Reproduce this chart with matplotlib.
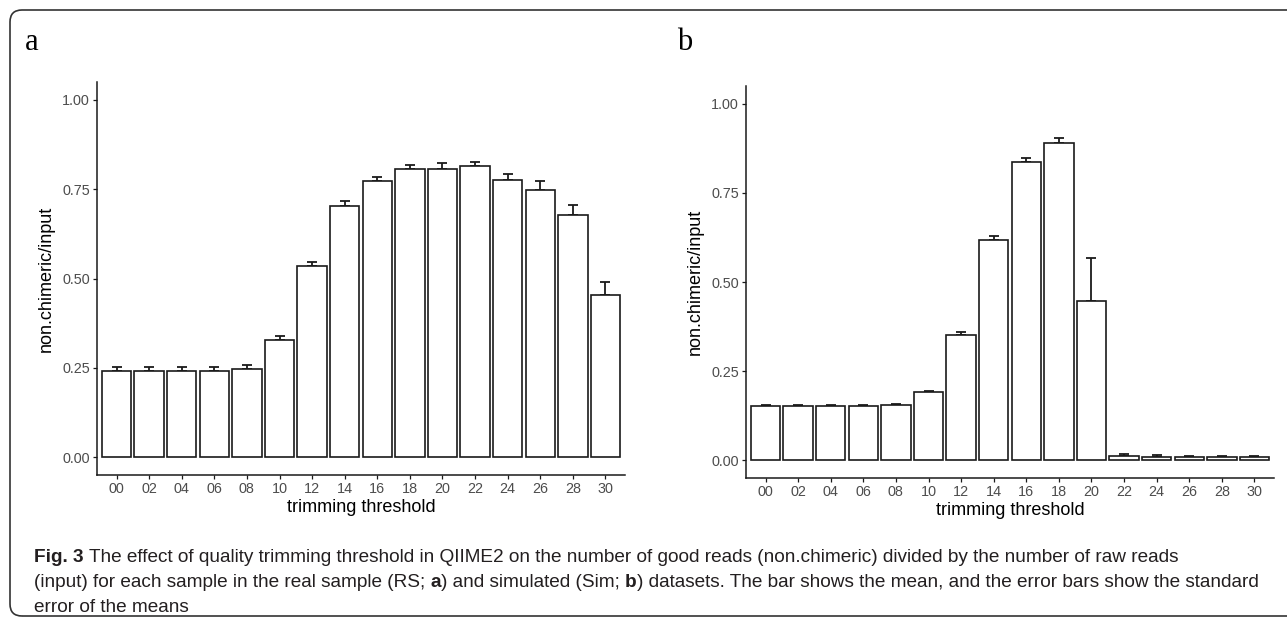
import matplotlib as mpl
import matplotlib.pyplot as plt
from matplotlib.patches import FancyBboxPatch
from matplotlib.transforms import IdentityTransform

mpl.use('Agg')

# data
thresholds = ['00', '02', '04', '06', '08', '10', '12', '14',
              '16', '18', '20', '22', '24', '26', '28', '30']

rs_mean = [0.242, 0.242, 0.242, 0.242, 0.248, 0.327, 0.534, 0.704,
           0.773, 0.807, 0.807, 0.815, 0.775, 0.748, 0.677, 0.455]
rs_se = [0.010, 0.010, 0.010, 0.010, 0.010, 0.011, 0.011, 0.012,
         0.010, 0.011, 0.015, 0.011, 0.018, 0.024, 0.030, 0.036]

sim_mean = [0.153, 0.153, 0.153, 0.153, 0.154, 0.191, 0.352, 0.617,
            0.836, 0.889, 0.447, 0.012, 0.010, 0.009, 0.009, 0.009]
sim_se = [0.003, 0.003, 0.003, 0.003, 0.003, 0.004, 0.008, 0.013,
          0.012, 0.016, 0.121, 0.004, 0.004, 0.004, 0.004, 0.004]

y_ticks = [0.0, 0.25, 0.5, 0.75, 1.0]
y_ticklabels = ['0.00', '0.25', '0.50', '0.75', '1.00']

caption = [
    [('Fig. 3', True), (' The effect of quality trimming threshold in QIIME2 on the number of good reads '
                        '(non.chimeric) divided by the number of raw reads', False)],
    [('(input) for each sample in the real sample (RS; ', False), ('a', True),
     (') and simulated (Sim; ', False), ('b', True),
     (') datasets. The bar shows the mean, and the error bars show the standard', False)],
    [('error of the means', False)],
]

W, H = 1287, 620
sans = ['Liberation Sans', 'DejaVu Sans']
cap_family = ['Liberation Sans', 'DejaVu Sans']

fig = plt.figure(figsize=(W / 100, H / 100), dpi=100)


def px_axes(left, top, right, bottom):
    return fig.add_axes([left / W, 1 - bottom / H, (right - left) / W, (bottom - top) / H])


def draw_panel(ax, means, ses):
    x = list(range(len(thresholds)))
    ax.errorbar(x, means, yerr=[[0] * len(ses), ses], fmt='none', ecolor='#1a1a1a',
                elinewidth=1.3, capsize=3.3, capthick=1.3, zorder=1)
    ax.bar(x, means, width=0.9, color='white', edgecolor='#1a1a1a', linewidth=1.2, zorder=2)
    ax.set_xlim(-0.6, len(thresholds) - 0.4)
    ax.set_ylim(-0.05, 1.05)
    ax.set_xticks(x)
    ax.set_xticklabels(thresholds, family=sans, fontsize=10.4, color='#4d4d4d')
    ax.set_yticks(y_ticks)
    ax.set_yticklabels(y_ticklabels, family=sans, fontsize=10.4, color='#4d4d4d')
    ax.tick_params(length=2.9, width=0.9, color='#1a1a1a', pad=2.2)
    for side in ['top', 'right']:
        ax.spines[side].set_visible(False)
    for side in ['left', 'bottom']:
        ax.spines[side].set_linewidth(1.1)
        ax.spines[side].set_color('#1a1a1a')
    ax.set_xlabel('trimming threshold', family=sans, fontsize=13, labelpad=2)
    ax.set_ylabel('non.chimeric/input', family=sans, fontsize=13, labelpad=5)


ax_a = px_axes(97, 82, 625, 475)
draw_panel(ax_a, rs_mean, rs_se)
ax_b = px_axes(746, 86, 1274, 478)
draw_panel(ax_b, sim_mean, sim_se)

# panel letters
fig.text(25 / W, 1 - 50 / H, 'a', family=['Liberation Serif', 'DejaVu Serif'], fontsize=22,
         va='baseline', ha='left')
fig.text(677 / W, 1 - 50 / H, 'b', family=['Liberation Serif', 'DejaVu Serif'], fontsize=22,
         va='baseline', ha='left')

# rounded frame, open to the right edge
fig.patches.append(FancyBboxPatch((10, 4), 1320, 606, boxstyle='round,pad=0,rounding_size=12',
                                  transform=IdentityTransform(), facecolor='none',
                                  edgecolor='#333333', linewidth=1.2))

# caption, drawn piece by piece so bold words sit inline
renderer = fig.canvas.get_renderer()
cap_fs = 13.7


def text_w(s, bold):
    t = fig.text(0, 0, s, fontsize=cap_fs, family=cap_family,
                 fontweight='bold' if bold else 'normal')
    w = t.get_window_extent(renderer).width
    t.remove()
    return w


space_w = text_w('n n', False) - text_w('nn', False)

for i, line in enumerate(caption):
    x = 34
    y = 558 + i * 24.5
    for s, bold in line:
        lead = len(s) - len(s.lstrip(' '))
        trail = len(s) - len(s.rstrip(' '))
        x += lead * space_w
        body = s.strip(' ')
        t = fig.text(x / W, 1 - y / H, body, fontsize=cap_fs, family=cap_family,
                     fontweight='bold' if bold else 'normal', va='center', ha='left',
                     color='#231f20')
        x += t.get_window_extent(renderer).width + trail * space_w

plt.savefig('out.png', dpi=100)
plt.close()
